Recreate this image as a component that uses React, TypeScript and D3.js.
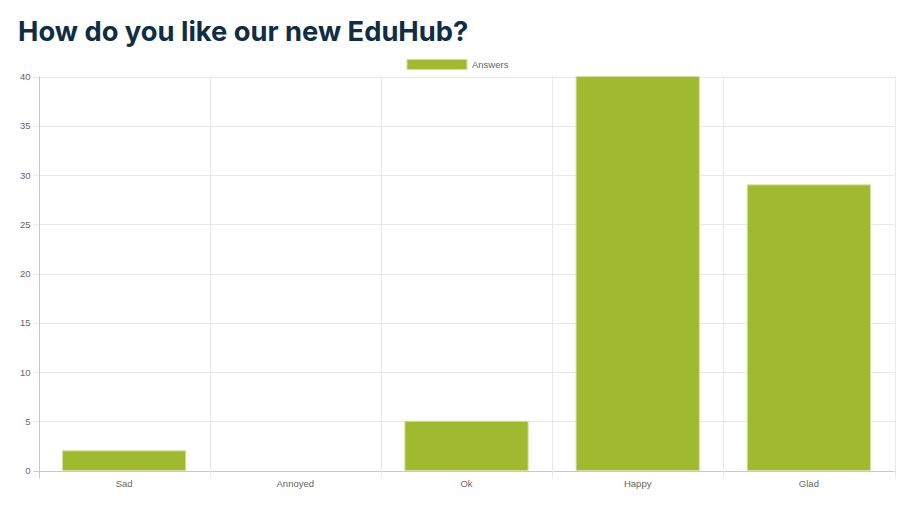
import { useEffect, useRef } from 'react';
import * as d3 from 'd3';

const categories = ['Sad', 'Annoyed', 'Ok', 'Happy', 'Glad'];
const answers = [2, 0, 5, 40, 29];
const yTicks = [0, 5, 10, 15, 20, 25, 30, 35, 40];
const seriesName = 'Answers';
const title = 'How do you like our new EduHub?';

const WIDTH = 922;
const HEIGHT = 508;
const BAR_COLOR = '#a0ba2f';
const GRID = '#e8e8e8';
const AXIS = '#c8c8c8';
const LABEL = '#666';
const FONT = '"Liberation Sans", Arial, sans-serif';

const drawChart = (el: SVGSVGElement) => {
  const svg = d3.select(el);
  svg.selectAll('*').remove();

  const plot = { left: 38.5, right: 894.5, top: 76.5, bottom: 470.5 };

  const x = d3.scaleBand<string>()
    .domain(categories)
    .range([plot.left, plot.right])
    .padding(0);
  const y = d3.scaleLinear().domain([0, 40]).range([plot.bottom, plot.top]);

  svg.append('text')
    .attr('x', 18)
    .attr('y', 41)
    .attr('font-family', 'Inter, sans-serif')
    .attr('font-weight', 700)
    .attr('font-size', 27.3)
    .attr('fill', '#0f2d45')
    .text(title);

  // legend
  const legend = svg.append('g');
  legend.append('rect')
    .attr('x', 407).attr('y', 59.5)
    .attr('width', 60).attr('height', 10)
    .attr('fill', BAR_COLOR)
    .attr('stroke', '#d4e0a0').attr('stroke-width', 1);
  legend.append('text')
    .attr('x', 472).attr('y', 68)
    .attr('font-family', FONT)
    .attr('font-size', 9.5)
    .attr('fill', LABEL)
    .text(seriesName);

  // horizontal grid + y ticks
  const gy = svg.append('g');
  yTicks.forEach(t => {
    gy.append('line')
      .attr('x1', plot.left - 5).attr('x2', plot.right)
      .attr('y1', Math.round(y(t)) + 0.5).attr('y2', Math.round(y(t)) + 0.5)
      .attr('stroke', t === 0 ? AXIS : GRID).attr('stroke-width', 1);
    gy.append('text')
      .attr('x', plot.left - 8)
      .attr('y', y(t) + 3.5)
      .attr('text-anchor', 'end')
      .attr('font-family', FONT)
      .attr('font-size', 9.5)
      .attr('fill', LABEL)
      .text(t);
  });

  // vertical grid
  const edges = [...categories.map(c => x(c)!), plot.right];
  edges.forEach((e, i) => {
    svg.append('line')
      .attr('x1', Math.round(e) + 0.5).attr('x2', Math.round(e) + 0.5)
      .attr('y1', plot.top).attr('y2', plot.bottom + 8)
      .attr('stroke', i === 0 ? AXIS : GRID).attr('stroke-width', 1);
  });

  // bars
  const barW = x.bandwidth() * 0.72;
  svg.append('g')
    .selectAll('rect')
    .data(answers)
    .join('rect')
    .attr('x', (_, i) => x(categories[i])! + (x.bandwidth() - barW) / 2)
    .attr('y', d => y(d))
    .attr('width', barW)
    .attr('height', d => y(0) - y(d))
    .attr('fill', BAR_COLOR)
    .attr('stroke', d => (d > 0 ? '#d4e0a0' : 'none'))
    .attr('stroke-width', 1);

  // x labels
  categories.forEach(c => {
    svg.append('text')
      .attr('x', x(c)! + x.bandwidth() / 2)
      .attr('y', plot.bottom + 16)
      .attr('text-anchor', 'middle')
      .attr('font-family', FONT)
      .attr('font-size', 9.5)
      .attr('fill', LABEL)
      .text(c);
  });
};

export default function App() {
  const ref = useRef<SVGSVGElement>(null);
  useEffect(() => {
    if (ref.current) drawChart(ref.current);
  }, []);
  return (
    <div style={{ position: 'absolute', left: 0, top: 0, background: '#fff' }}>
      <svg ref={ref} width={WIDTH} height={HEIGHT} style={{ display: 'block' }} />
    </div>
  );
}
